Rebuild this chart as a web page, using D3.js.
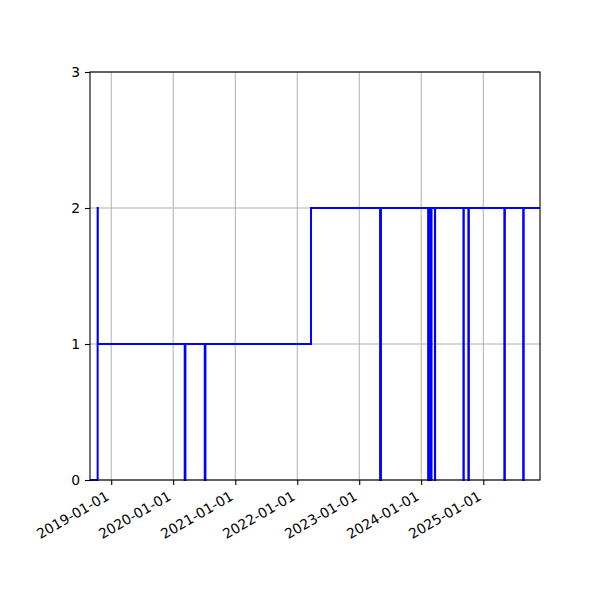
<!DOCTYPE html>
<html>
<head>
<meta charset="utf-8">
<script src="https://cdn.jsdelivr.net/npm/d3@7"></script>
<style>
  body { margin: 0; background: #fff; }
  text { font-family: "DejaVu Sans", sans-serif; }
</style>
</head>
<body>
<div id="chart"></div>
<script>
// step data: each value holds from its date until the next date
var dates = ["2018-08-29", "2018-10-13", "2018-10-14",
             "2020-03-09", "2020-03-13", "2020-07-05", "2020-07-09",
             "2022-03-23",
             "2023-05-04", "2023-05-09",
             "2024-02-11", "2024-02-15", "2024-02-18", "2024-02-22", "2024-02-25", "2024-03-02",
             "2024-03-22", "2024-03-23",
             "2024-09-06", "2024-09-08", "2024-10-05", "2024-10-08",
             "2025-05-05", "2025-05-08", "2025-08-24", "2025-08-27",
             "2025-12-01"];
var values = [0, 2, 1,
              0, 1, 0, 1,
              2,
              0, 2,
              0, 2, 0, 2, 0, 2,
              0, 2,
              0, 2, 0, 2,
              0, 2, 0, 2,
              2];
var yTicks = [0, 1, 2, 3];
var xTicks = ["2019-01-01", "2020-01-01", "2021-01-01", "2022-01-01",
              "2023-01-01", "2024-01-01", "2025-01-01"];

var width = 600,
    height = 600;
var margin = {top: 72, right: 60, bottom: 120, left: 90};

var parse = d3.timeParse("%Y-%m-%d");
var data = dates.map(function (d, i) {
    return {date: parse(d), value: values[i]};
});

var svg = d3.select("#chart")
    .append("svg")
    .attr("width", width)
    .attr("height", height);

var x = d3.scaleTime()
    .domain([data[0].date, data[data.length - 1].date])
    .range([margin.left, width - margin.right]);

var y = d3.scaleLinear()
    .domain([0, 3])
    .range([height - margin.bottom, margin.top]);

// grid lines
svg.append("g")
    .selectAll("line.vgrid")
    .data(xTicks)
    .enter()
    .append("line")
    .attr("x1", function (d) { return x(parse(d)); })
    .attr("x2", function (d) { return x(parse(d)); })
    .attr("y1", y(0))
    .attr("y2", y(3))
    .attr("stroke", "#b0b0b0")
    .attr("stroke-width", 1);

svg.append("g")
    .selectAll("line.hgrid")
    .data(yTicks)
    .enter()
    .append("line")
    .attr("x1", x.range()[0])
    .attr("x2", x.range()[1])
    .attr("y1", function (d) { return y(d); })
    .attr("y2", function (d) { return y(d); })
    .attr("stroke", "#b0b0b0")
    .attr("stroke-width", 1);

// the step line
var line = d3.line()
    .x(function (d) { return x(d.date); })
    .y(function (d) { return y(d.value); })
    .curve(d3.curveStepAfter);

svg.append("path")
    .datum(data)
    .attr("d", line)
    .attr("fill", "none")
    .attr("stroke", "#0000ff")
    .attr("stroke-width", 2);

// axes
var xAxis = svg.append("g")
    .attr("transform", "translate(0," + y(0) + ")")
    .call(d3.axisBottom(x)
        .tickValues(xTicks.map(parse))
        .tickFormat(d3.timeFormat("%Y-%m-%d"))
        .tickSize(5)
        .tickPadding(5));

xAxis.select(".domain").remove();
xAxis.selectAll(".tick line").attr("stroke", "#000").attr("stroke-width", 1.1);
xAxis.selectAll(".tick text")
    .attr("font-size", "13.9px")
    .attr("fill", "#000")
    .attr("text-anchor", "end")
    .attr("dy", null)
    .attr("y", null)
    .attr("transform", "translate(-1.6,19) rotate(-30)");

var yAxis = svg.append("g")
    .attr("transform", "translate(" + margin.left + ",0)")
    .call(d3.axisLeft(y)
        .tickValues(yTicks)
        .tickFormat(d3.format("d"))
        .tickSize(5)
        .tickPadding(5));

yAxis.select(".domain").remove();
yAxis.selectAll(".tick line").attr("stroke", "#000").attr("stroke-width", 1.1);
yAxis.selectAll(".tick text")
    .attr("font-size", "13.9px")
    .attr("fill", "#000");

// frame around the plot area
svg.append("rect")
    .attr("x", x.range()[0])
    .attr("y", y(3))
    .attr("width", x.range()[1] - x.range()[0])
    .attr("height", y(0) - y(3))
    .attr("fill", "none")
    .attr("stroke", "#000")
    .attr("stroke-width", 1.1);
</script>
</body>
</html>
